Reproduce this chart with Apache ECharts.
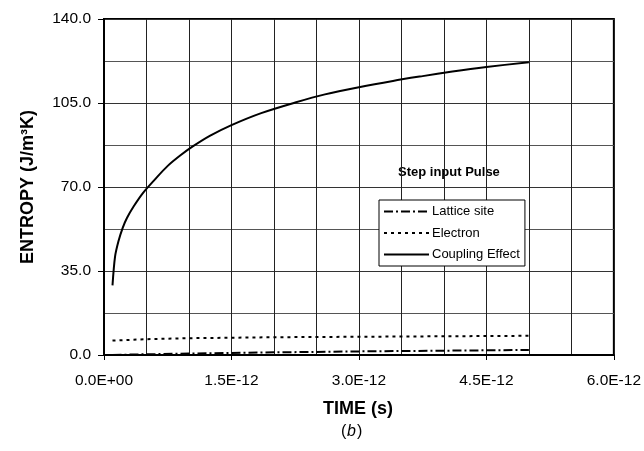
<!DOCTYPE html>
<html>
<head>
<meta charset="utf-8">
<script src="https://cdn.jsdelivr.net/npm/echarts@6/dist/echarts.min.js"></script>
<style>html,body{margin:0;padding:0;background:#fff;}#c{width:644px;height:451px;}</style>
</head>
<body>
<div id="c"></div>
<script>
// time in units of 1E-12 s (ps)
var couplingTime = [0.10, 0.13, 0.17, 0.22, 0.27, 0.35, 0.46, 0.60, 0.75, 0.90, 1.04, 1.25, 1.50, 1.85, 2.25, 2.60, 3.00, 3.40, 3.75, 4.10, 4.50, 5.00];
var couplingVals = [29.0, 41.0, 47.4, 53.0, 57.1, 62.0, 67.6, 73.2, 78.8, 83.2, 86.8, 91.4, 95.8, 100.8, 105.2, 108.6, 111.6, 114.2, 116.2, 118.1, 120.0, 122.0];
var electronTime = [0.10, 0.50, 1.00, 2.00, 3.00, 4.00, 5.00];
var electronVals = [6.0, 6.6, 7.0, 7.4, 7.6, 7.8, 8.0];
var latticeTime = [0.10, 0.50, 1.00, 2.00, 3.00, 4.00, 5.00];
var latticeVals = [0.05, 0.3, 0.6, 1.1, 1.5, 1.8, 2.1];
var seriesNames = ['Lattice site', 'Electron', 'Coupling Effect'];
var xTickLabels = ['0.0E+00', '1.5E-12', '3.0E-12', '4.5E-12', '6.0E-12'];
var yTickLabels = ['0.0', '35.0', '70.0', '105.0', '140.0'];

function zip(a, b) { return a.map(function (v, i) { return [v, b[i]]; }); }

var chart = echarts.init(document.getElementById('c'), null, {renderer: 'canvas'});
var font = 'Liberation Sans, Arial, sans-serif';
chart.setOption({
  animation: false,
  backgroundColor: '#fff',
  textStyle: {fontFamily: font},
  grid: {left: 104, right: 30, top: 19, bottom: 96, show: true, borderColor: '#000', borderWidth: 2, backgroundColor: 'transparent'},
  xAxis: {
    type: 'value', min: 0, max: 6, interval: 1.5,
    axisLine: {show: true, lineStyle: {color: '#000', width: 2}},
    axisTick: {show: true, length: 5, lineStyle: {color: '#000', width: 1}},
    axisLabel: {color: '#000', fontSize: 15.5, fontFamily: font, margin: 18,
      formatter: function (v) { return xTickLabels[Math.round(v / 1.5)]; }},
    splitLine: {show: true, lineStyle: {color: '#222', width: 1}},
    minorTick: {show: false, splitNumber: 3},
    minorSplitLine: {show: true, lineStyle: {color: '#222', width: 1}}
  },
  yAxis: {
    type: 'value', min: 0, max: 140, interval: 35,
    axisLine: {show: true, lineStyle: {color: '#000', width: 2}},
    axisTick: {show: true, length: 6, lineStyle: {color: '#000', width: 1}},
    axisLabel: {color: '#000', fontSize: 15.5, fontFamily: font, margin: 13,
      formatter: function (v) { return yTickLabels[Math.round(v / 35)]; }},
    splitLine: {show: true, lineStyle: {color: '#333', width: 1}},
    minorTick: {show: false, splitNumber: 2},
    minorSplitLine: {show: true, lineStyle: {color: '#555', width: 1}}
  },
  legend: {
    orient: 'vertical', left: 379, top: 200,
    data: seriesNames,
    itemWidth: 45, itemHeight: 12, itemGap: 8.5,
    padding: [5, 5, 5, 4],
    borderColor: '#000', borderWidth: 1, backgroundColor: '#fff',
    itemStyle: {opacity: 0},
    textStyle: {fontSize: 13, color: '#000', fontFamily: font, padding: [0, 0, 0, -2]}
  },
  graphic: [
    {type: 'text', left: 398, top: 166, style: {text: 'Step input Pulse', font: 'bold 13px ' + font, fill: '#000'}},
    {type: 'text', left: 323, top: 400, style: {text: 'TIME (s)', font: 'bold 18px ' + font, fill: '#000'}},
    {type: 'text', left: 341, top: 424, style: {text: '(', font: '16px ' + font, fill: '#000'}},
    {type: 'text', left: 347, top: 424, style: {text: 'b', font: 'italic 16px ' + font, fill: '#000'}},
    {type: 'text', left: 357, top: 424, style: {text: ')', font: '16px ' + font, fill: '#000'}},
    {type: 'text', x: 28, y: 187, rotation: Math.PI / 2,
      style: {text: 'ENTROPY (J/m³K)', font: 'bold 18px ' + font, fill: '#000', align: 'center', verticalAlign: 'middle'}}
  ],
  series: [
    {name: seriesNames[0], type: 'line', data: zip(latticeTime, latticeVals), showSymbol: false, symbol: 'none',
      lineStyle: {color: '#000', width: 2, type: [9, 3, 2, 3]}, itemStyle: {color: '#000'}},
    {name: seriesNames[1], type: 'line', data: zip(electronTime, electronVals), showSymbol: false, symbol: 'none',
      lineStyle: {color: '#000', width: 2, type: [3, 4]}, itemStyle: {color: '#000'}},
    {name: seriesNames[2], type: 'line', data: zip(couplingTime, couplingVals), showSymbol: false, symbol: 'none',
      smooth: 0.3,
      lineStyle: {color: '#000', width: 2, type: 'solid'}, itemStyle: {color: '#000'}}
  ]
});
</script>
</body>
</html>
